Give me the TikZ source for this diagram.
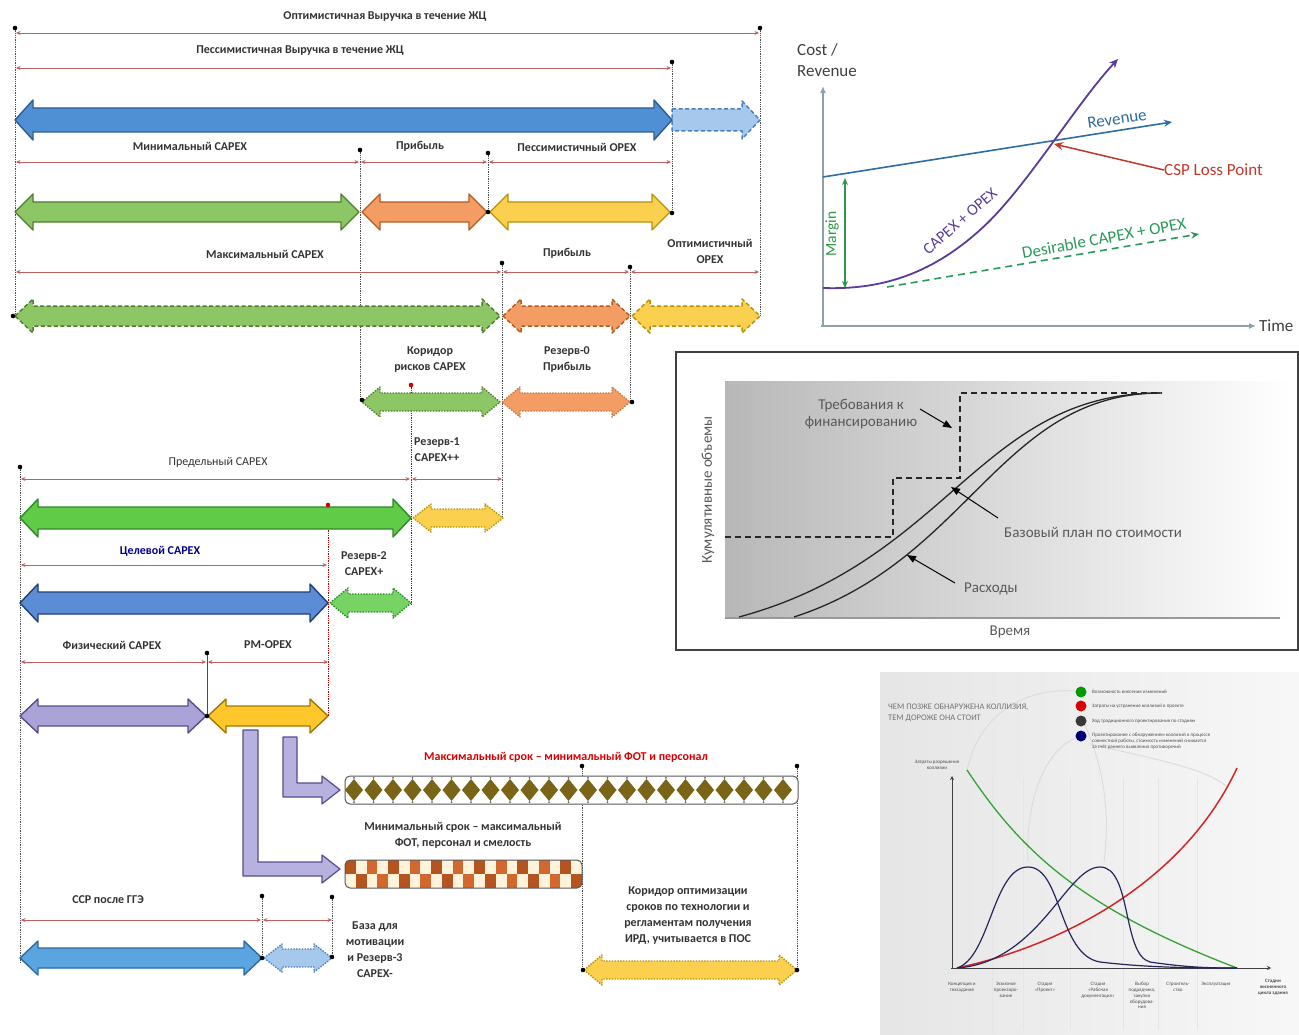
\documentclass[tikz,border=0pt]{standalone}
\usepackage{fontspec}
\setmainfont{Carlito}
\usetikzlibrary{arrows.meta}

% palette
\definecolor{dimred}{HTML}{C0605E}
\definecolor{blueF}{HTML}{4F8FD3}\definecolor{blueD}{HTML}{2D5C93}
\definecolor{lblueF}{HTML}{A6C8EC}\definecolor{lblueD}{HTML}{4A7FC0}
\definecolor{grnF}{HTML}{8DC765}\definecolor{grnD}{HTML}{4E7C2F}
\definecolor{oraF}{HTML}{F39C63}\definecolor{oraD}{HTML}{B35A22}
\definecolor{yelF}{HTML}{FCD04F}\definecolor{yelD}{HTML}{B8900C}
\definecolor{bgrnF}{HTML}{5FCB47}\definecolor{bgrnD}{HTML}{2D8A2A}
\definecolor{dblueF}{HTML}{5A8DD6}\definecolor{dblueD}{HTML}{203F78}
\definecolor{lavF}{HTML}{A9A3D8}\definecolor{lavD}{HTML}{5B4B8E}
\definecolor{gyelF}{HTML}{FFC72C}\definecolor{gyelD}{HTML}{A07800}
\definecolor{sblueF}{HTML}{5AA5DF}\definecolor{sblueD}{HTML}{2D6AA0}
\definecolor{diamC}{HTML}{7A6418}
\definecolor{chkC}{HTML}{B5541F}\definecolor{chkO}{HTML}{D2682E}\definecolor{chkL}{HTML}{FFF3DC}
\definecolor{axisG}{HTML}{8EA0AA}
\definecolor{revB}{HTML}{2E6DA4}
\definecolor{cpxP}{HTML}{5B3C9A}
\definecolor{cspR}{HTML}{C0392B}
\definecolor{desG}{HTML}{2A9A5A}
\definecolor{marG}{HTML}{2A9A4A}

% double-headed block arrow: x1, x2, y, shaft half-height, head half-height, style
\newcommand\dblarr[6]{%
  \path[#6] (#1,#3) -- ({#1+18},{#3-#5}) -- ({#1+18},{#3-#4}) -- ({#2-18},{#3-#4})
    -- ({#2-18},{#3-#5}) -- (#2,#3) -- ({#2-18},{#3+#5}) -- ({#2-18},{#3+#4})
    -- ({#1+18},{#3+#4}) -- ({#1+18},{#3+#5}) -- cycle;}
% right-pointing block arrow
\newcommand\rgtarr[6]{%
  \path[#6] (#1,{#3-#4}) -- ({#2-18},{#3-#4}) -- ({#2-18},{#3-#5}) -- (#2,#3)
    -- ({#2-18},{#3+#5}) -- ({#2-18},{#3+#4}) -- (#1,{#3+#4}) -- cycle;}

\tikzset{
  lbl/.style={font=\fontsize{12}{16}\selectfont\bfseries, text=black!80, align=center, inner sep=0pt},
  dim/.style={draw=dimred, line width=0.7pt, {Stealth[length=4.5pt,width=4pt]}-{Stealth[length=4.5pt,width=4pt]}},
  vline/.style={draw=black!70, line width=0.8pt, dash pattern=on 1.3pt off 1pt},
  rline/.style={draw=red!75!black, line width=0.8pt, dash pattern=on 1.3pt off 1pt},
  pt/.style={fill=black},
  solidbar/.style={line width=1.4pt, line join=round},
  dashbar/.style={line width=1.5pt, line join=round, dash pattern=on 4pt off 2.5pt},
  dotbar/.style={line width=1.4pt, line join=round, dash pattern=on 1.4pt off 1.4pt},
  axisln/.style={draw=axisG, line width=2pt, -{Latex[length=7pt,width=6pt]}},
  chtxt/.style={font=\fontsize{17}{21}\selectfont, inner sep=0pt},
  grtxt/.style={font=\fontsize{15}{16.5}\selectfont, text=black!65, inner sep=0pt, align=center},
  pointer/.style={draw=black, line width=1pt, -{Triangle[length=9pt,width=7pt]}},
  tiny/.style={font=\fontsize{5}{5.8}\selectfont, text=black!70, inner sep=0pt, align=center},
}

\begin{document}
\begin{tikzpicture}[x=1pt,y=-1pt]
\useasboundingbox (0,0) rectangle (1299,1035);
\fill[white] (0,0) rectangle (1299,1035);

% ---------- guide lines ----------
\draw[vline] (15,28) -- (15,316);
\draw[vline] (760,28) -- (760,316);
\draw[vline] (672,62) -- (672,213);
\draw[vline] (360,150) -- (360,400);
\draw[vline] (488,153) -- (488,212);
\draw[vline] (502,263) -- (502,517);
\draw[vline] (630,267) -- (630,402);
\draw[rline] (411,385) -- (411,605);
\draw[rline] (328,505) -- (328,716);
\draw[vline] (20,467) -- (20,962);
\draw[draw=black!70, line width=0.7pt] (207,653) -- (207,716);
\draw[vline] (262,896) -- (262,958);
\draw[vline] (332,897) -- (332,957);
\draw[vline] (582,766) -- (582,970);
\draw[vline] (797,766) -- (797,970);

% ---------- dimension lines ----------
\draw[dim] (16,33) -- (759,33);
\draw[dim] (16,68) -- (671,68);
\draw[dim] (16,162) -- (359,162);
\draw[dim] (361,162) -- (487,162);
\draw[dim] (489,162) -- (671,162);
\draw[dim] (16,272) -- (501,272);
\draw[dim] (503,272) -- (629,272);
\draw[dim] (631,272) -- (759,272);
\draw[dim] (21,479) -- (410,479);
\draw[dim] (412,479) -- (502,479);
\draw[dim] (21,565) -- (327,565);
\draw[dim] (21,662) -- (206,662);
\draw[dim] (208,662) -- (328,662);
\draw[dim] (21,920) -- (261,920);
\draw[dim] (263,920) -- (332,920);

% ---------- block arrows ----------
% revenue over life cycle
\rgtarr{672}{760}{120}{11}{19}{fill=lblueF, draw=lblueD, dashbar}
\dblarr{15}{672}{120}{12}{20}{fill=blueF, draw=blueD, solidbar}
% minimal CAPEX scenario
\dblarr{15}{359}{212}{10}{18}{fill=grnF, draw=grnD, solidbar}
\dblarr{362}{487}{212}{10}{18}{fill=oraF, draw=oraD, solidbar}
\dblarr{490}{670}{212}{10}{18}{fill=yelF, draw=yelD, solidbar}
% maximal CAPEX scenario
\dblarr{15}{500}{316}{10}{17}{fill=grnF, draw=grnD, dashbar}
\dblarr{503}{630}{316}{10}{17}{fill=oraF, draw=oraD, dashbar}
\dblarr{632}{760}{316}{10}{17}{fill=yelF, draw=yelD, dashbar}
% risk corridor and reserve 0
\dblarr{362}{500}{402}{9}{15}{fill=grnF, draw=grnD, dotbar}
\dblarr{502}{630}{402}{9}{15}{fill=oraF, draw=oraD!80, dotbar}
% limit CAPEX
\dblarr{20}{411}{518}{11}{19}{fill=bgrnF, draw=bgrnD, solidbar}
\dblarr{413}{503}{518}{9}{14}{fill=yelF, draw=yelD, dotbar}
% target CAPEX
\dblarr{20}{328}{603}{11}{19}{fill=dblueF, draw=dblueD, solidbar}
\dblarr{330}{411}{603}{9}{15}{fill=bgrnF!85, draw=bgrnD, dotbar}
% physical CAPEX and PM-OPEX
\dblarr{20}{206}{716}{10}{17}{fill=lavF, draw=lavD, solidbar}
\dblarr{208}{328}{716}{10}{17}{fill=gyelF, draw=gyelD, solidbar}
% estimate after expertise
\dblarr{20}{262}{958}{10}{17}{fill=sblueF, draw=sblueD, solidbar}
\dblarr{264}{332}{958}{9}{14}{fill=lblueF, draw=lblueD, dotbar}
% schedule optimisation corridor
\dblarr{584}{797}{970}{9}{15}{fill=yelF, draw=yelD, dotbar}

% L-shaped branch arrows
\path[fill=lavF!85, draw=lavD, line width=1.2pt, line join=round]
  (243,730) -- (258,730) -- (258,862) -- (322,862) -- (322,855) -- (340,869)
  -- (322,883) -- (322,876) -- (243,876) -- cycle;
\path[fill=lavF!85, draw=lavD, line width=1.2pt, line join=round]
  (283,737) -- (297,737) -- (297,783) -- (322,783) -- (322,776) -- (340,790)
  -- (322,804) -- (322,797) -- (283,797) -- cycle;

% long schedule bar with diamonds
\draw[fill=white, draw=black!65, line width=1pt, rounded corners=5pt] (345,776) rectangle (798,804);
\foreach \i in {0,...,22}{
  \pgfmathsetmacro\cx{354+19.5*\i}
  \fill[diamC] (\cx,779) -- ({\cx+9},790) -- (\cx,801) -- ({\cx-9},790) -- cycle;
  \fill[black!60] (\cx,777.8) circle (1pt);
  \fill[black!60] (\cx,802.2) circle (1pt);
}
% short schedule bar, checkered
\begin{scope}
  \clip[rounded corners=5pt] (345,860) rectangle (582,888);
  \fill[chkL] (345,860) rectangle (582,888);
  \foreach \c in {0,...,21}{
    \foreach \r in {0,1}{
      \pgfmathtruncatemacro\chkodd{mod(\c+\r,2)}
      \pgfmathtruncatemacro\chkshade{mod(\c,4)}
      \ifnum\chkodd=0
        \ifnum\chkshade<2
          \fill[chkC] ({345+10.77*\c},{860+14*\r}) rectangle ({345+10.77*(\c+1)},{860+14*(\r+1)});
        \else
          \fill[chkO] ({345+10.77*\c},{860+14*\r}) rectangle ({345+10.77*(\c+1)},{860+14*(\r+1)});
        \fi
      \fi
    }
  }
\end{scope}
\draw[draw=black!65, line width=1pt, rounded corners=5pt] (345,860) rectangle (582,888);

% ---------- end points ----------
\foreach \p in {(15,28),(760,28),(672,62),(360,150),(488,153),(488,212),(672,213),
  (502,263),(630,267),(13,316),(362,400),(632,402),(20,467),(207,653),(207,716),
  (582,766),(797,766),(583,970),(797,970),(262,896),(332,897),(262,958),(332,957)}
  \fill[pt] \p circle (2.3pt);
\fill[red!80!black] (411,385) circle (2.3pt);
\fill[red!80!black] (328,505) circle (2.3pt);

% ---------- labels ----------
\node[lbl] (tOptRev) at (385,17) {Оптимистичная Выручка в течение ЖЦ};
\node[lbl] (tPesRev) at (300,51) {Пессимистичная Выручка в течение ЖЦ};
\node[lbl] (tMinCap) at (190,146) {Минимальный CAPEX};
\node[lbl] (tProf1) at (420,146) {Прибыль};
\node[lbl] (tPesOpex) at (577,147) {Пессимистичный OPEX};
\node[lbl] (tMaxCap) at (265,254) {Максимальный CAPEX};
\node[lbl] (tProf2) at (567,253) {Прибыль};
\node[lbl] (tOptOpex) at (710,251) {Оптимистичный\\OPEX};
\node[lbl] (tCorr) at (430,360) {Коридор\\рисков CAPEX};
\node[lbl] (tRes0) at (567,360) {Резерв-0\\Прибыль};
\node[lbl] (tRes1) at (437,450) {Резерв-1\\CAPEX++};
\node[lbl, font=\fontsize{12}{16}\selectfont] (tLimCap) at (218,462) {Предельный CAPEX};
\node[lbl, text=blue!55!black] (tTgtCap) at (160,551) {Целевой CAPEX};
\node[lbl] (tRes2) at (364,564) {Резерв-2\\CAPEX+};
\node[lbl] (tPhysCap) at (112,645) {Физический CAPEX};
\node[lbl] (tPmOpex) at (268,645) {PM-OPEX};
\node[lbl, text=red!85!black] (tMaxTerm) at (566,757) {Максимальный срок – минимальный ФОТ и персонал};
\node[lbl] (tMinTerm) at (463,835) {Минимальный срок – максимальный\\ФОТ, персонал и смелость};
\node[lbl] (tOptCorr) at (688,916) {Коридор оптимизации\\сроков по технологии и\\регламентам получения\\ИРД, учитывается в ПОС};
\node[lbl] (tSsr) at (108,900) {ССР после ГГЭ};
\node[lbl] (tBase) at (375,950) {База для\\мотивации\\и Резерв-3\\CAPEX-};

% ---------- cost / revenue chart ----------
\node[chtxt, text=black!75, anchor=west, align=left] (cYlab) at (797,60) {Cost /\\Revenue};
\draw[axisln] (823,327) -- (823,86);
\draw[axisln] (821,326) -- (1256,326);
\node[chtxt, text=black!75, anchor=west] (cTime) at (1259,326) {Time};
\coordinate (revA) at (823,177);
\coordinate (revB) at (1172,122);
\draw[draw=revB, line width=1.6pt, -{Stealth[length=8pt,width=7pt]}] (revA) -- (revB);
\node[chtxt, text=revB, rotate=8.5] (cRev) at (1117,119) {Revenue};
\coordinate (marT) at (845,178);
\coordinate (marB) at (845,288);
\draw[draw=marG, line width=1.6pt, {Stealth[length=7pt,width=6pt]}-{Stealth[length=7pt,width=6pt]}] (marT) -- (marB);
\node[chtxt, text=marG, rotate=90, font=\fontsize{15.5}{17}\selectfont] (cMar) at (832,234) {Margin};
\coordinate (cpxS) at (823,288);
\coordinate (cpxE) at (1118,59);
\draw[draw=cpxP, line width=1.8pt, -{Stealth[length=9pt,width=8pt]}]
  (cpxS) .. controls (880,290) and (930,275) .. (980,230)
         .. controls (1025,190) and (1075,105) .. (cpxE);
\node[chtxt, text=cpxP, rotate=41, font=\fontsize{16}{18}\selectfont] (cCpx) at (960,221) {CAPEX + OPEX};
\coordinate (desS) at (887,287);
\coordinate (desE) at (1199,234);
\draw[draw=desG, line width=1.6pt, dash pattern=on 7pt off 5pt, -{Stealth[length=8pt,width=7pt]}] (desS) -- (desE);
\node[chtxt, text=desG, rotate=10.5] (cDes) at (1104,238) {Desirable CAPEX + OPEX};
\node[chtxt, text=cspR, anchor=west] (cCsp) at (1164,170) {CSP Loss Point};
\coordinate (cspPt) at (1054,144);
\draw[draw=cspR, line width=1.5pt, -{Stealth[length=9pt,width=8pt]}] (cCsp.west) -- (cspPt);

% ---------- cumulative volumes chart ----------
\draw[draw=black!75, line width=2pt] (676,352) rectangle (1298,650);
\shade[left color=black!28, right color=white] (725,381) rectangle (1292,618);
\draw[draw=black!40, line width=2.5pt] (725,618) -- (1280,618);
\draw[black!85, line width=1.5pt, dash pattern=on 6pt off 4pt]
  (725,537) -- (893,537) -- (893,478) -- (960,478) -- (960,393) -- (1162,393);
\draw[black!85, line width=1.3pt] (739,617) .. controls (950,560) and (980,393) .. (1160,393);
\draw[black!85, line width=1.3pt] (794,617) .. controls (970,560) and (1000,393) .. (1161,393);
\node[grtxt] (gFund) at (861,414) {Требования к\\финансированию};
\draw[pointer] (920,409) -- (952,428);
\node[grtxt, anchor=west] (gBase) at (1004,532) {Базовый план по стоимости};
\draw[pointer] (998,518) -- (951,487);
\node[grtxt, anchor=west] (gExp) at (964,589) {Расходы};
\draw[pointer] (955,583) -- (907,555);
\node[grtxt, rotate=90] (gYlab) at (708,490) {Кумулятивные объемы};
\node[grtxt] (gTime) at (1010,632) {Время};

% ---------- collision cost chart ----------
\shade[left color=black!10, right color=black!3] (880,672) rectangle (1299,1035);
\foreach \gx in {992,1023,1070,1123,1158,1197}
  \draw[black!10, line width=0.7pt] (\gx,778) -- (\gx,1030);
\draw[black!14, line width=0.9pt] (967,770) .. controls (982,705) and (1035,688) .. (1075,691);
\draw[black!14, line width=0.9pt] (1090,744) .. controls (1150,758) and (1205,768) .. (1226,786);
\draw[black!14, line width=0.9pt] (1028,862) .. controls (1025,790) and (1050,748) .. (1076,738);
\draw[black!14, line width=0.9pt] (1104,862) .. controls (1112,800) and (1098,755) .. (1085,725);
\node[anchor=west, inner sep=0pt, align=left, text=black!55, font=\fontsize{8.5}{10.5}\selectfont] (rTitle) at (888,713)
  {ЧЕМ ПОЗЖЕ ОБНАРУЖЕНА КОЛЛИЗИЯ,\\ТЕМ ДОРОЖЕ ОНА СТОИТ};
\fill[green!60!black] (1081,692) circle (5.5pt);
\fill[red!85!black] (1081,706) circle (5.5pt);
\fill[black!78] (1081,721) circle (5.5pt);
\fill[blue!45!black] (1081,736) circle (5.5pt);
\node[tiny, anchor=west, align=left] (rL1) at (1092,692) {Возможность внесения изменений};
\node[tiny, anchor=west, align=left] (rL2) at (1092,706) {Затраты на устранение коллизий в проекте};
\node[tiny, anchor=west, align=left] (rL3) at (1092,721) {Ход традиционного проектирования по стадиям};
\node[tiny, anchor=north west, align=left] (rL4) at (1092,733) {Проектирование с обнаружением коллизий в процессе\\совместной работы, стоимость изменений снижается\\за счёт раннего выявления противоречий};
\draw[black!75, line width=0.8pt, -{Stealth[length=4pt,width=4pt]}] (952,969) -- (952,776);
\draw[black!75, line width=0.8pt, -{Stealth[length=4pt,width=4pt]}] (951,968) -- (1271,968);
\node[tiny] (rYlab) at (937,765) {Затраты разрешения\\коллизии};
\draw[green!55!black!80, line width=1.3pt] (967,770) .. controls (1020,850) and (1080,908) .. (1237,968);
\draw[red!80!black!85, line width=1.5pt] (957,968) .. controls (1065,945) and (1185,880) .. (1237,768);
\draw[blue!25!black!85, line width=1.2pt] (957,968) .. controls (990,958) and (993,867) .. (1028,867)
  .. controls (1062,867) and (1058,955) .. (1100,962) .. controls (1150,968) and (1200,968) .. (1237,968);
\draw[blue!25!black!85, line width=1.2pt] (957,968) .. controls (1040,962) and (1066,867) .. (1100,867)
  .. controls (1132,867) and (1122,955) .. (1150,962) .. controls (1190,968) and (1215,968) .. (1237,968);
\node[tiny, anchor=north] (rS1) at (962,982) {Концепция и\\техзадание};
\node[tiny, anchor=north] (rS2) at (1006,982) {Эскизное\\проектиро-\\вание};
\node[tiny, anchor=north] (rS3) at (1045,982) {Стадия\\«Проект»};
\node[tiny, anchor=north] (rS4) at (1098,982) {Стадия\\«Рабочая\\документация»};
\node[tiny, anchor=north] (rS5) at (1142,982) {Выбор\\подрядчика,\\закупки\\оборудова-\\ния};
\node[tiny, anchor=north] (rS6) at (1178,982) {Строитель-\\ство};
\node[tiny, anchor=north] (rS7) at (1216,982) {Эксплуатация};
\node[tiny, anchor=north, font=\fontsize{5}{5.8}\selectfont\bfseries] (rS8) at (1273,979) {Стадии\\жизненного\\цикла здания};
\end{tikzpicture}
\end{document}
